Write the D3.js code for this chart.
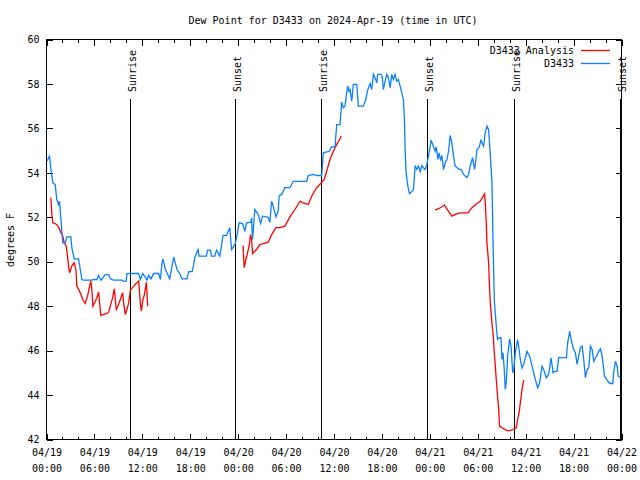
<!DOCTYPE html>
<html><head><meta charset="utf-8">
<script src="https://cdn.jsdelivr.net/npm/d3@7"></script>
<style>
body{margin:0;background:#fff;}
text{font-family:"DejaVu Sans Mono","Liberation Mono",monospace;font-size:10px;fill:#000;}
</style></head>
<body><svg id="chart" width="640" height="480"></svg>
<script>
// ---- data (hours after 2024-04-19 00:00 UTC) ----
const titleText = "Dew Point for D3433 on 2024-Apr-19 (time in UTC)";
const yLabel = "degrees F";
const seriesNames = ["D3433 Analysis", "D3433"];
const yTicks = [42,44,46,48,50,52,54,56,58,60];

const obsHours = [0.04,0.38,0.54,0.79,1.09,1.29,1.51,1.63,1.79,2.04,2.35,2.55,3.05,3.17,3.47,4.01,4.23,4.43,4.64,5.68,5.9,6.31,6.52,6.81,7.36,7.78,7.99,8.4,9.45,9.66,9.97,10.07,10.62,11.54,11.75,12.04,12.29,12.58,12.79,13.08,13.42,14.05,14.26,14.46,14.59,14.89,15.43,15.72,15.93,16.34,16.68,16.97,17.6,17.81,18.23,18.44,18.56,18.98,19.1,20.03,20.16,20.53,20.66,21.07,21.29,21.7,21.91,22.11,22.54,22.95,23.17,23.58,23.8,24.12,24.55,24.84,25.05,25.59,25.68,25.8,26.09,26.5,26.81,27.06,27.76,27.97,28.19,28.39,28.73,29.01,29.14,29.44,29.85,30.48,30.9,32.58,32.78,33.4,33.83,34.46,34.66,35.41,35.71,36.13,36.34,36.75,36.97,37.17,37.38,37.59,37.72,37.88,38.01,38.22,38.42,38.85,39.05,39.68,39.98,40.18,40.39,40.52,40.73,40.93,41.14,41.36,41.48,41.9,42.06,42.18,42.4,42.61,42.81,43.03,43.24,43.44,43.65,43.86,44.07,44.28,44.49,44.69,44.82,44.91,45.03,45.25,45.45,45.66,45.95,46.16,46.38,46.58,46.79,47.0,47.2,47.42,47.63,47.83,48.17,48.46,48.67,48.8,49.01,49.17,49.33,49.51,49.71,49.92,50.14,50.34,50.55,50.76,50.96,51.18,51.59,51.93,52.22,52.65,52.85,53.06,53.35,53.6,53.77,53.9,54.19,54.4,54.73,54.94,55.15,55.36,55.57,55.78,55.91,56.07,56.32,56.48,56.73,56.91,57.03,57.16,57.32,57.45,57.58,57.74,57.99,58.17,58.37,58.5,58.7,58.99,59.12,59.33,59.54,59.75,60.17,60.5,60.8,61.21,61.5,61.75,62.05,62.25,62.59,62.88,63.18,63.43,63.6,63.93,64.13,65.1,65.26,65.51,65.69,65.94,66.23,66.44,66.64,66.86,67.07,67.27,67.48,67.7,67.9,68.11,68.32,68.52,68.86,69.15,69.37,69.58,69.87,70.2,70.53,70.91,71.03,71.25,71.46,71.59,71.88];
const obsValues = [54.52,54.75,54.18,53.55,53.47,52.8,52.57,52.72,51.98,50.85,50.85,51.12,51.12,50.63,50.13,50.13,49.65,49.2,49.17,49.17,49.2,49.2,49.39,49.17,49.42,49.42,49.23,49.17,49.17,49.12,49.12,49.46,49.47,49.47,49.2,49.47,49.35,49.17,49.39,49.23,49.47,49.47,49.2,49.95,50.13,49.65,49.23,49.8,50.22,49.65,49.47,49.23,49.23,49.55,49.55,49.88,50.18,50.55,50.25,50.25,50.52,50.52,50.25,50.25,50.52,50.25,50.7,51.19,51.19,51.53,50.55,50.77,51.08,51.75,51.72,51.37,51.75,51.78,51.98,51.0,52.35,52.13,51.72,52.05,52.0,51.78,52.72,52.5,52.02,52.27,52.98,53.02,53.33,53.33,53.62,53.62,53.88,53.93,53.88,53.88,54.9,54.97,55.17,55.17,56.17,56.17,57.18,56.93,57.0,57.6,57.9,57.67,57.75,57.22,57.98,57.98,57.0,57.0,57.3,57.67,57.9,58.02,57.75,58.43,58.28,58.05,58.43,58.43,58.28,57.75,58.12,58.43,58.28,57.83,58.43,58.2,58.43,58.12,58.2,57.9,57.6,57.3,56.4,55.05,54.0,53.4,53.07,53.13,53.25,54.33,54.15,54.3,54.05,54.33,54.23,54.15,54.38,54.75,55.47,55.17,54.97,55.17,54.6,54.9,54.6,54.75,54.15,54.45,54.6,54.97,55.68,55.35,54.75,54.3,54.18,54.15,53.93,53.78,53.93,54.3,54.68,54.15,54.6,55.05,55.17,55.47,55.2,55.8,56.1,55.95,54.82,53.55,51.0,48.3,47.1,46.5,46.58,46.58,45.6,45.9,45.15,44.25,44.62,45.75,46.53,46.2,45.0,45.15,45.9,46.5,46.2,45.6,45.22,45.38,45.97,45.75,45.3,44.7,44.33,44.55,45.3,45.15,44.78,44.93,45.68,45.0,45.07,45.07,45.68,45.68,46.35,46.87,46.5,46.13,45.9,45.38,45.75,46.13,46.2,45.6,44.78,45.15,45.22,46.2,46.05,45.52,45.75,45.97,46.08,45.75,44.85,44.67,44.52,44.52,45.07,45.52,45.3,44.85,44.78];

// analysis series; null marks a gap
const anaHours = [0.54,0.66,0.79,1.09,1.38,1.63,1.79,2.04,2.22,2.47,2.63,2.76,2.89,3.17,3.47,3.68,3.8,4.23,4.55,4.85,5.14,5.39,5.56,5.68,5.81,6.11,6.31,6.52,6.65,6.81,7.15,7.56,7.78,7.99,8.28,8.49,8.74,9.03,9.24,9.53,9.66,9.87,10.07,10.29,10.41,10.5,10.91,11.54,11.75,11.88,12.08,12.26,12.51,12.67,
 18.0,
 24.62,24.75,24.96,25.13,25.38,25.55,25.68,25.8,26.3,26.72,27.13,27.76,28.19,28.73,29.23,29.85,30.48,31.11,31.74,32.15,32.78,33.2,33.83,34.33,34.78,35.08,35.5,35.91,36.34,36.75,36.88,
 42.0,
 48.67,49.3,49.84,50.34,50.76,51.18,51.81,52.77,53.27,53.9,54.31,54.85,54.94,55.07,55.15,55.36,55.45,55.57,55.78,55.91,56.07,56.2,56.32,56.48,56.61,56.73,57.03,57.66,58.07,58.41,58.82,58.99,59.2,59.33,59.54,59.75];
const anaValues = [52.88,52.2,51.75,51.72,51.63,51.48,51.3,51.15,50.85,50.7,50.25,49.8,49.5,49.8,49.95,49.65,48.9,48.6,48.3,48.12,48.45,48.9,49.13,48.75,48.0,48.22,48.38,48.63,48.15,47.58,47.63,47.67,47.73,48.0,48.38,48.78,47.85,48.07,48.3,48.6,48.15,47.62,47.85,48.15,48.45,48.72,48.9,49.13,48.15,47.78,48.3,48.52,49.08,48.0,
 null,
 50.73,49.73,50.1,50.32,50.73,51.22,51.0,50.37,50.55,50.77,50.82,50.88,51.22,51.53,51.53,51.6,52.02,52.35,52.72,52.65,52.58,52.95,53.33,53.52,53.7,54.07,54.6,54.97,55.28,55.53,55.66,
 null,
 52.32,52.43,52.55,52.27,52.05,52.13,52.2,52.2,52.43,52.62,52.72,53.05,52.65,51.75,50.85,49.95,49.05,48.15,47.25,46.8,45.9,45.3,44.7,43.95,43.43,42.6,42.53,42.4,42.4,42.45,42.53,42.9,43.27,43.65,44.25,44.67];

const sunHours = [10.41, 23.65, 34.41, 47.7, 58.49, 71.8];
const sunLabels = ["Sunrise","Sunset","Sunrise","Sunset","Sunrise","Sunset"];

// ---- drawing ----
const t0 = Date.UTC(2024,3,19,0,0);
const toDate = h => new Date(t0 + h*3600e3);
const svg = d3.select("#chart");
const L = 46.5, R = 621.5, T = 39.5, B = 439.5;
const x = d3.scaleUtc().domain([new Date(t0), toDate(72)]).range([L, R]);
const y = d3.scaleLinear().domain([42, 60]).range([B, T]);

svg.append("text").attr("x", 333).attr("y", 20).attr("dy","0.35em")
  .attr("text-anchor","middle").text(titleText);
svg.append("text").attr("transform","translate(10,240) rotate(-90)")
  .attr("dy","0.35em").attr("text-anchor","middle").text(yLabel);

const fmtD = d3.utcFormat("%m/%d"), fmtT = d3.utcFormat("%H:%M");
function styleAxis(g){ g.select(".domain").remove(); g.selectAll("line").attr("stroke","#000").attr("shape-rendering","crispEdges"); g.selectAll("text").attr("font-family",null).attr("font-size",null); }

// minor ticks (2h)
const minor = d3.utcHour.every(2).range(new Date(t0), toDate(72.01)).filter(d => d.getUTCHours() % 6 !== 0);
svg.append("g").attr("transform",`translate(0,${B})`)
  .call(d3.axisBottom(x).tickValues(minor).tickSize(-3).tickFormat("")).call(styleAxis);
svg.append("g").attr("transform",`translate(0,${T})`)
  .call(d3.axisTop(x).tickValues(minor).tickSize(-3).tickFormat("")).call(styleAxis);
// major ticks (6h)
const major = d3.utcHour.every(6).range(new Date(t0), toDate(72.01));
const gx = svg.append("g").attr("transform",`translate(0,${B})`)
  .call(d3.axisBottom(x).tickValues(major).tickSize(-6).tickFormat(""))
  .call(styleAxis);
gx.selectAll(".tick").append("text").attr("y", 16).attr("text-anchor","middle").attr("fill","#000")
  .each(function(d){ const t=d3.select(this);
    t.append("tspan").attr("x",0).attr("dy","0em").text(fmtD(d));
    t.append("tspan").attr("x",0).attr("dy","1.6em").text(fmtT(d)); });
svg.append("g").attr("transform",`translate(0,${T})`)
  .call(d3.axisTop(x).tickValues(major).tickSize(-6).tickFormat("")).call(styleAxis);

svg.append("g").attr("transform",`translate(${L},0)`)
  .call(d3.axisLeft(y).tickValues(yTicks).tickSize(-6).tickPadding(7).tickFormat(d3.format("d")))
  .call(styleAxis);
svg.append("g").attr("transform",`translate(${R},0)`)
  .call(d3.axisRight(y).tickValues(yTicks).tickSize(-6).tickFormat("")).call(styleAxis);

// sunrise / sunset lines
const sun = svg.append("g");
sunHours.forEach((h,i) => {
  const xp = Math.round(x(toDate(h))) + 0.5;
  sun.append("line").attr("x1",xp).attr("x2",xp).attr("y1",99).attr("y2",B)
    .attr("stroke","#000").attr("shape-rendering","crispEdges");
  sun.append("text").attr("transform",`translate(${xp+1.5},92) rotate(-90)`)
    .attr("dy","0.35em").attr("text-anchor","start").text(sunLabels[i]);
});

// data lines
svg.append("clipPath").attr("id","pc").append("rect")
  .attr("x",L).attr("y",T).attr("width",R-L).attr("height",B-T);
const line = d3.line().defined(d => d[1] !== null).x(d => x(toDate(d[0]))).y(d => y(d[1]));
svg.append("path").datum(anaHours.map((h,i)=>[h,anaValues[i]]))
  .attr("d", line).attr("fill","none").attr("stroke","#ff0000").attr("stroke-width",1.3)
  .attr("clip-path","url(#pc)");
svg.append("path").datum(obsHours.map((h,i)=>[h,obsValues[i]]))
  .attr("d", line).attr("fill","none").attr("stroke","#0a80ff").attr("stroke-width",1.3)
  .attr("clip-path","url(#pc)");

// border
svg.append("rect").attr("x",L).attr("y",T).attr("width",R-L).attr("height",B-T)
  .attr("fill","none").attr("stroke","#000").attr("shape-rendering","crispEdges");

// legend
const legColors = ["#ff0000","#0a80ff"];
seriesNames.forEach((n,i) => {
  const yy = 50 + i*13;
  svg.append("text").attr("x",574).attr("y",yy).attr("dy","0.35em").attr("text-anchor","end").text(n);
  svg.append("line").attr("x1",581).attr("x2",610).attr("y1",yy+0.5).attr("y2",yy+0.5)
    .attr("stroke",legColors[i]).attr("stroke-width",1.3);
});
</script></body></html>
